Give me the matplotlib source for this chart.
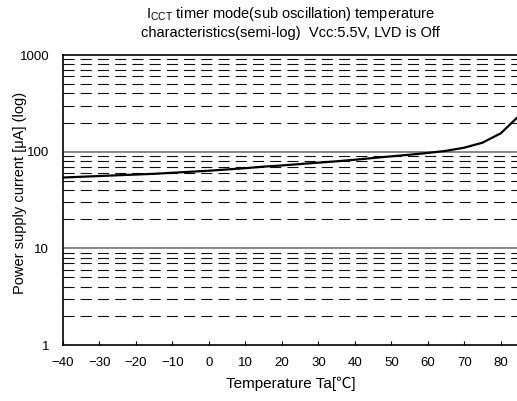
import matplotlib
matplotlib.use("Agg")
import matplotlib.pyplot as plt
import numpy as np
from matplotlib.ticker import FixedLocator, NullFormatter

plt.rcParams['font.family'] = ['Liberation Sans', 'Noto Sans CJK JP', 'DejaVu Sans']

temps = [-40, -35, -30, -25, -20, -15, -10, -5, 0, 5, 10, 15, 20, 25, 30,
         35, 40, 45, 50, 55, 60, 65, 70, 75, 80, 85]
current = [54, 55, 56, 57, 58, 59, 60.5, 62, 63.5, 65.5, 67.5, 70, 72, 74.5, 77,
           79.5, 82.5, 86, 89.5, 93, 97, 102, 110, 124, 155, 235]
xticks = [-40, -30, -20, -10, 0, 10, 20, 30, 40, 50, 60, 70, 80]
yticks = [1, 10, 100, 1000]
yticklabels = ['1', '10', '100', '1000']

fig = plt.figure(figsize=(5.17, 4.01), dpi=100)
ax = fig.add_axes([63/517, 56/401, 1 - 63/517 + 0.004, (345-55)/401])

ax.set_yscale('log')
ax.set_ylim(1, 1000)
ax.set_xlim(-40, 85)

minors = [m * 10**e for e in range(0, 3) for m in range(2, 10)]
for v in minors:
    ax.axhline(v, color='#111111', lw=0.8, ls=(0, (10, 5.5)), zorder=1)
for v in [10, 100]:
    ax.axhline(v, color='#808080', lw=1.3, zorder=1)

ax.plot(temps, current, color='black', lw=1.6, zorder=3)

ax.set_xticks(xticks)
ax.set_xticklabels([str(t).replace('-', '−') for t in xticks])
ax.yaxis.set_major_locator(FixedLocator(yticks))
ax.set_yticklabels(yticklabels)
ax.yaxis.set_minor_locator(FixedLocator([]))
ax.yaxis.set_minor_formatter(NullFormatter())
ax.tick_params(axis='x', direction='in', length=3, width=0.8, labelsize=9.5, pad=9)
ax.tick_params(axis='y', length=0, labelsize=9.5, pad=10)

for s in ['left', 'top', 'bottom']:
    ax.spines[s].set_linewidth(1.2)
ax.spines['right'].set_visible(False)

ax.set_xlabel('Temperature Ta[℃]', fontsize=11)
ax.xaxis.set_label_coords(290/517 * 517/454 - 63/454, -(384 - 345) / 290, transform=ax.transAxes)
ax.xaxis.label.set_va('center')
ax.set_ylabel('Power supply current [μA] (log)', fontsize=10.5)
ax.yaxis.set_label_coords((20 - 63) / 454, (345 - 193) / 290, transform=ax.transAxes)
ax.yaxis.label.set_va('center')

fig.text(290/517, 1 - 14/401, r'I$_{\mathregular{CCT}}$ timer mode(sub oscillation) temperature',
         ha='center', va='center', fontsize=10.5)
fig.text(290/517, 1 - 33/401, 'characteristics(semi-log)  Vcc:5.5V, LVD is Off',
         ha='center', va='center', fontsize=10.5)

fig.savefig('out.png', dpi=100)
